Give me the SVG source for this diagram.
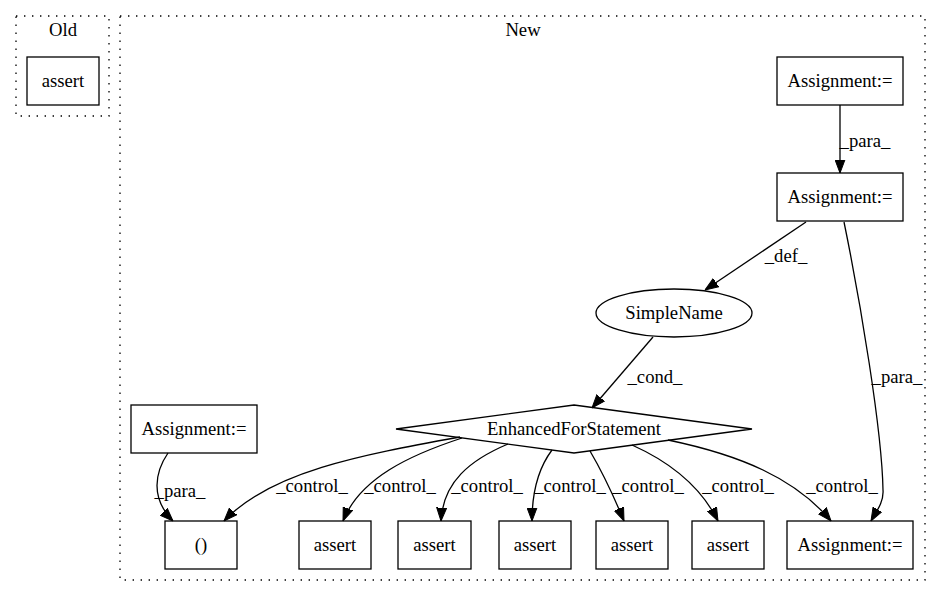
<svg xmlns="http://www.w3.org/2000/svg" width="940" height="596" viewBox="0 0 940 596">
<style>
  .cluster { fill: none; stroke: #000; stroke-width: 1.3; stroke-dasharray: 1.4,6.6; }
  .node { fill: #fff; stroke: #000; stroke-width: 1.3; }
  .lbl { font-family: "Liberation Serif", "Times New Roman", serif; font-size: 18.67px; fill: #000; text-anchor: middle; }
  .edge { fill: none; stroke: #000; stroke-width: 1.3; marker-end: url(#arrow); }
</style>
<defs>
  <marker id="arrow" markerUnits="userSpaceOnUse" viewBox="0 0 13.3 11" markerWidth="13.3" markerHeight="11" refX="13.3" refY="5.5" orient="auto">
    <path d="M0,0.5 L13.3,5.5 L0,10.5 Z" fill="#000" stroke="#000" stroke-width="1"/>
  </marker>
</defs>
<rect width="940" height="596" fill="#fff"/>

<g id="cluster_old">
  <rect class="cluster" x="16" y="16" width="93" height="100"/>
  <text class="lbl" x="63" y="36">Old</text>
</g>
<g id="cluster_new">
  <rect class="cluster" x="120" y="16" width="805" height="564"/>
  <text class="lbl" x="523" y="36">New</text>
</g>

<g id="old_assert">
  <rect class="node" x="27" y="57" width="72" height="48"/>
  <text class="lbl" x="63" y="87">assert</text>
</g>

<g id="assign_top">
  <rect class="node" x="777" y="57" width="126" height="48"/>
  <text class="lbl" x="840" y="87">Assignment:=</text>
</g>
<g id="assign_mid">
  <rect class="node" x="777" y="173" width="126" height="48"/>
  <text class="lbl" x="840" y="203">Assignment:=</text>
</g>
<g id="simplename">
  <ellipse class="node" cx="674" cy="313" rx="78" ry="24"/>
  <text class="lbl" x="674" y="319">SimpleName</text>
</g>
<g id="efs">
  <polygon class="node" points="574,405 752,429 574,453 396,429"/>
  <text class="lbl" x="574" y="435">EnhancedForStatement</text>
</g>
<g id="assign_left">
  <rect class="node" x="131" y="405" width="126" height="48"/>
  <text class="lbl" x="194" y="435">Assignment:=</text>
</g>
<g id="paren">
  <rect class="node" x="165" y="521" width="72" height="48"/>
  <text class="lbl" x="201" y="551">()</text>
</g>
<g id="assert1">
  <rect class="node" x="299" y="521" width="72" height="48"/>
  <text class="lbl" x="335" y="551">assert</text>
</g>
<g id="assert2">
  <rect class="node" x="398" y="521" width="73" height="48"/>
  <text class="lbl" x="434.5" y="551">assert</text>
</g>
<g id="assert3">
  <rect class="node" x="499" y="521" width="72" height="48"/>
  <text class="lbl" x="535" y="551">assert</text>
</g>
<g id="assert4">
  <rect class="node" x="596" y="521" width="72" height="48"/>
  <text class="lbl" x="632" y="551">assert</text>
</g>
<g id="assert5">
  <rect class="node" x="692" y="521" width="72" height="48"/>
  <text class="lbl" x="728" y="551">assert</text>
</g>
<g id="assign_br">
  <rect class="node" x="787" y="521" width="126" height="48"/>
  <text class="lbl" x="850" y="551">Assignment:=</text>
</g>

<g id="edges">
  <path class="edge" d="M840,105 L840,173"/>
  <text class="lbl" x="865" y="147">_para_</text>

  <path class="edge" d="M806,222 L705,290"/>
  <text class="lbl" x="786" y="262">_def_</text>

  <path class="edge" d="M844,222 C860,300 882,430 883,490 C884,502 876,512 871,521"/>
  <text class="lbl" x="897" y="383">_para_</text>

  <path class="edge" d="M653,337 L592,408"/>
  <text class="lbl" x="655" y="383">_cond_</text>

  <path class="edge" d="M168,453 C155,472 150,498 173,521"/>
  <text class="lbl" x="180" y="497">_para_</text>

  <path class="edge" d="M460,437 C360,455 270,472 224,521"/>
  <text class="lbl" x="312" y="492">_control_</text>

  <path class="edge" d="M462,438 C410,455 360,478 343,521"/>
  <text class="lbl" x="400" y="492">_control_</text>

  <path class="edge" d="M508,444 C470,460 443,482 441,521"/>
  <text class="lbl" x="487" y="492">_control_</text>

  <path class="edge" d="M552,450 C540,466 532,488 532,521"/>
  <text class="lbl" x="570" y="492">_control_</text>

  <path class="edge" d="M590,451 C600,468 612,492 624,521"/>
  <text class="lbl" x="648" y="492">_control_</text>

  <path class="edge" d="M632,445 C670,462 700,485 718,521"/>
  <text class="lbl" x="738" y="492">_control_</text>

  <path class="edge" d="M668,440 C740,455 795,478 831,521"/>
  <text class="lbl" x="842" y="492">_control_</text>
</g>
</svg>
